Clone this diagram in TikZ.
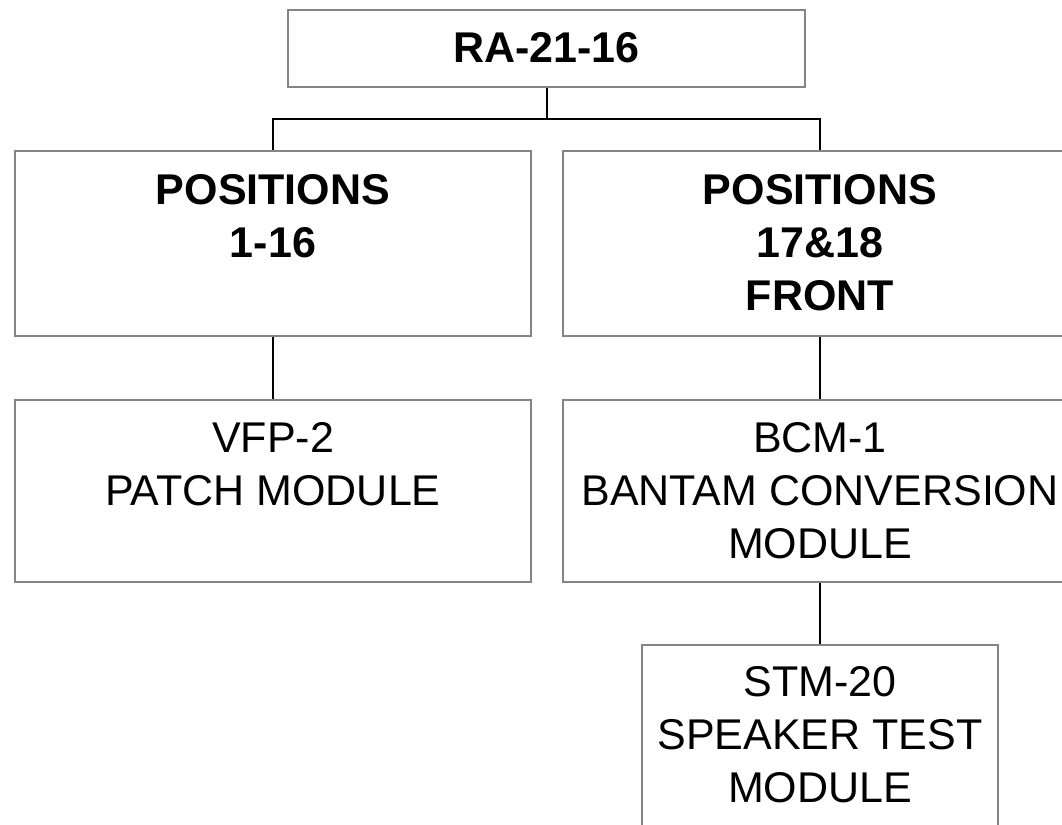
\documentclass[tikz,border=0pt]{standalone}
\usepackage{fontspec}
\setmainfont{Liberation Sans}
\definecolor{boxgray}{RGB}{132,132,132}
\begin{document}
\begin{tikzpicture}[x=1pt,y=-1pt,
  boxst/.style={draw=boxgray, line width=2.4pt, fill=white, inner sep=0pt},
  conn/.style={draw=black, line width=2pt},
  lbl/.style={anchor=north, inner sep=0pt, align=center, font=\fontsize{43pt}{53pt}\selectfont},
  blbl/.style={lbl, font=\fontsize{43pt}{53pt}\selectfont\bfseries}]
\useasboundingbox (0,0) rectangle (1062,824);
\fill[white] (0,0) rectangle (1062,824);
\clip (0,0) rectangle (1062,824);
% boxes
\node[boxst, minimum width=517pt, minimum height=77pt] (top) at (546.5,48.5) {};
\node[boxst, minimum width=516pt, minimum height=185pt] (p1) at (273,243.5) {};
\node[boxst, minimum width=514pt, minimum height=185pt] (p2) at (820,243.5) {};
\node[boxst, minimum width=516pt, minimum height=182pt] (vfp) at (273,491) {};
\node[boxst, minimum width=514pt, minimum height=182pt] (bcm) at (820,491) {};
\node[boxst, minimum width=356pt, minimum height=200pt] (stm) at (820,745) {};
% labels
\node[blbl] (ttop) at ([yshift=-23.5pt]top.north) {RA-21-16};
\node[blbl] (tp1) at ([yshift=-24pt]p1.north) {POSITIONS\\1-16};
\node[blbl] (tp2) at ([yshift=-24pt]p2.north) {POSITIONS\\17\&18\\FRONT};
\node[lbl] (tvfp) at ([yshift=-23pt]vfp.north) {VFP-2\\PATCH MODULE};
\node[lbl] (tbcm) at ([yshift=-23pt]bcm.north) {BCM-1\\BANTAM CONVERSION\\MODULE};
\node[lbl] (tstm) at ([yshift=-22pt]stm.north) {STM-20\\SPEAKER TEST\\MODULE};
% connectors
\coordinate (bar) at (546.5,119);
\draw[conn] (top.south) -- (bar);
\draw[conn] (p1.north) |- (bar) -| (p2.north);
\draw[conn] (p1.south) -- (vfp.north);
\draw[conn] (p2.south) -- (bcm.north);
\draw[conn] (bcm.south) -- (stm.north);
\end{tikzpicture}
\end{document}
